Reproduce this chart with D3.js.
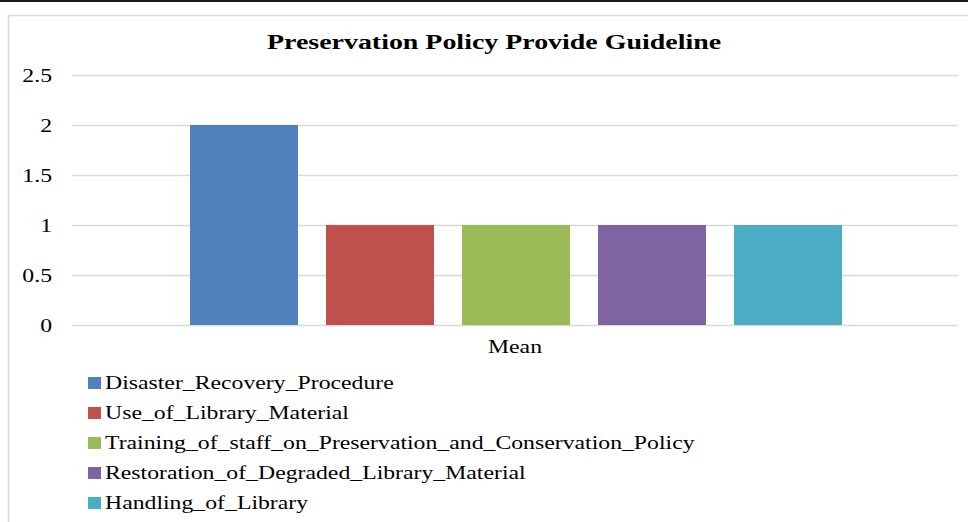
<!DOCTYPE html>
<html>
<head>
<meta charset="utf-8">
<script src="https://cdn.jsdelivr.net/npm/d3@7"></script>
<style>
  body { margin: 0; background: #fff; }
  svg { display: block; }
</style>
</head>
<body>
<script>
var width = 968, height = 522;

// data
var categories = ["Mean"];
var seriesNames = [
  "Disaster_Recovery_Procedure",
  "Use_of_Library_Material",
  "Training_of_staff_on_Preservation_and_Conservation_Policy",
  "Restoration_of_Degraded_Library_Material",
  "Handling_of_Library"
];
var seriesValues = [2, 1, 1, 1, 1];
var seriesColors = ["#4f81bd", "#c0504d", "#9bbb59", "#8064a2", "#4bacc6"];
var yTicks = [0, 0.5, 1, 1.5, 2, 2.5];

var serif = "Liberation Serif, Times New Roman, serif";
var stretch = 1.32; // the picture's text is wider than normal

var svg = d3.select("body").append("svg")
  .attr("width", width)
  .attr("height", height);

svg.append("rect").attr("width", width).attr("height", height).attr("fill", "#fff");
// dark strip at top edge
svg.append("rect").attr("x", 0).attr("y", 0).attr("width", width).attr("height", 2).attr("fill", "#1a1a1a");
// chart area border (runs off right and bottom)
svg.append("rect")
  .attr("x", 8.5).attr("y", 15.5)
  .attr("width", width + 20).attr("height", height + 20)
  .attr("fill", "none").attr("stroke", "#d9d9d9").attr("stroke-width", 1.5);

function wideText(sel, x, y, sx) {
  return sel.attr("x", 0).attr("y", 0)
    .attr("transform", "translate(" + x + "," + y + ") scale(" + (sx || stretch) + ",1)");
}

var left = 72, right = 958;
var y = d3.scaleLinear().domain([0, 2.5]).range([325, 75]);
var x0 = d3.scaleBand().domain(categories).range([left, right]).padding(0);
var x1 = d3.scaleBand().domain(seriesNames)
  .range([118, x0.bandwidth() - 116])
  .paddingInner(0.206).paddingOuter(0);

// title
wideText(svg.append("text"), 494, 49, 1.27)
  .attr("text-anchor", "middle")
  .attr("font-family", serif)
  .attr("font-weight", "bold")
  .attr("font-size", 22)
  .attr("fill", "#000")
  .text("Preservation Policy Provide Guideline");

// grid + y axis
var yAxis = d3.axisLeft(y).tickValues(yTicks).tickSize(-(right - left)).tickFormat(d3.format("~g"));
var gy = svg.append("g").attr("transform", "translate(" + left + ",0)").call(yAxis);
gy.select(".domain").remove();
gy.selectAll(".tick line").attr("stroke", "#d9d9d9").attr("stroke-width", 1.5);
gy.selectAll(".tick text").each(function() {
  wideText(d3.select(this), -20, 0);
}).attr("dy", "0.34em")
  .attr("font-family", serif)
  .attr("font-size", 18)
  .attr("fill", "#000");

// bars
var groups = svg.selectAll("g.cat").data(categories).enter().append("g")
  .attr("class", "cat")
  .attr("transform", function(d) { return "translate(" + x0(d) + ",0)"; });

groups.selectAll("rect")
  .data(seriesNames.map(function(n, i) { return {name: n, value: seriesValues[i], color: seriesColors[i]}; }))
  .enter().append("rect")
  .attr("x", function(d) { return x1(d.name); })
  .attr("y", function(d) { return y(d.value); })
  .attr("width", x1.bandwidth())
  .attr("height", function(d) { return y(0) - y(d.value); })
  .attr("fill", function(d) { return d.color; });

// category label
svg.selectAll("text.cat").data(categories).enter().append("text")
  .attr("class", "cat")
  .each(function(d) { wideText(d3.select(this), x0(d) + x0.bandwidth() / 2, 353); })
  .attr("text-anchor", "middle")
  .attr("font-family", serif)
  .attr("font-size", 18)
  .attr("fill", "#000")
  .text(function(d) { return d; });

// legend
var legend = svg.selectAll("g.leg").data(seriesNames).enter().append("g")
  .attr("class", "leg")
  .attr("transform", function(d, i) { return "translate(88," + (383 + i * 30) + ")"; });
legend.append("rect")
  .attr("x", 0).attr("y", -6).attr("width", 13).attr("height", 12)
  .attr("fill", function(d, i) { return seriesColors[i]; });
legend.append("text")
  .each(function() { wideText(d3.select(this), 17, 6); })
  .attr("font-family", serif)
  .attr("font-size", 18)
  .attr("fill", "#000")
  .text(function(d) { return d; });
</script>
</body>
</html>
